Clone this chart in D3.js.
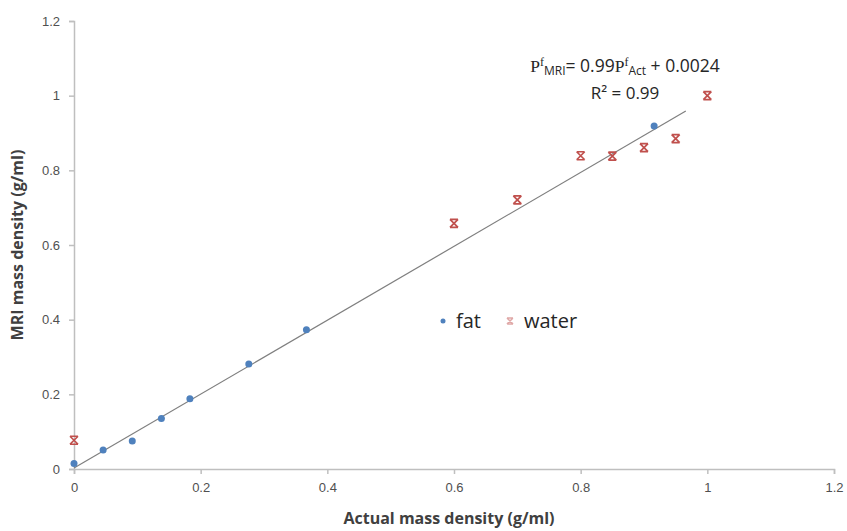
<!DOCTYPE html>
<html>
<head>
<meta charset="utf-8">
<script src="https://cdn.jsdelivr.net/npm/d3@7"></script>
<style>
  body { margin: 0; background: #fff; }
  svg { font-family: "Open Sans", "Liberation Sans", sans-serif; }
</style>
</head>
<body>
<script>
// chart data
var fatActual = [0, 0.046, 0.092, 0.138, 0.183, 0.276, 0.367, 0.916];
var fatMri    = [0.015, 0.051, 0.075, 0.135, 0.188, 0.281, 0.373, 0.919];
var waterActual = [0, 0.6, 0.7, 0.8, 0.85, 0.9, 0.95, 1.0];
var waterMri    = [0.077, 0.658, 0.721, 0.839, 0.838, 0.861, 0.885, 1.0];
var tickValues = [0, 0.2, 0.4, 0.6, 0.8, 1, 1.2];
var fitSlope = 0.99, fitIntercept = 0.0024, fitRange = [0, 0.966];

var width = 847, height = 531;
var margin = {left: 74, right: 13, top: 21, bottom: 62};

var svg = d3.select("body").append("svg")
    .attr("width", width)
    .attr("height", height);

var x = d3.scaleLinear().domain([0, 1.2]).range([margin.left, width - margin.right]);
var y = d3.scaleLinear().domain([0, 1.2]).range([height - margin.bottom, margin.top]);

var axisColor = "#bfbfbf";

// x axis
var gx = svg.append("g")
    .attr("transform", "translate(0," + y(0) + ")")
    .call(d3.axisBottom(x).tickValues(tickValues).tickSize(5).tickPadding(9)
          .tickFormat(function(d){ return d3.format("~g")(d); }));
gx.select(".domain").attr("stroke", axisColor).attr("stroke-width", 1.5);
gx.selectAll(".tick line").attr("stroke", axisColor).attr("stroke-width", 1.5);
gx.selectAll(".tick text").attr("fill", "#505050").attr("font-size", 13);

// y axis
var gy = svg.append("g")
    .attr("transform", "translate(" + x(0) + ",0)")
    .call(d3.axisLeft(y).tickValues(tickValues).tickSize(5).tickPadding(9)
          .tickFormat(function(d){ return d3.format("~g")(d); }));
gy.select(".domain").attr("stroke", axisColor).attr("stroke-width", 1.5);
gy.selectAll(".tick line").attr("stroke", axisColor).attr("stroke-width", 1.5);
gy.selectAll(".tick text").attr("fill", "#505050").attr("font-size", 13);

// axis titles
svg.append("text")
    .attr("x", (x(0) + x(1.2)) / 2 - 5)
    .attr("y", 524)
    .attr("text-anchor", "middle")
    .attr("font-weight", "bold")
    .attr("font-size", 16)
    .attr("fill", "#404040")
    .text("Actual mass density (g/ml)");

svg.append("text")
    .attr("transform", "translate(23," + ((y(0) + y(1.2)) / 2) + ") rotate(-90)")
    .attr("text-anchor", "middle")
    .attr("font-weight", "bold")
    .attr("font-size", 16)
    .attr("fill", "#404040")
    .text("MRI mass density (g/ml)");

// trendline
svg.append("line")
    .attr("x1", x(fitRange[0])).attr("y1", y(fitSlope * fitRange[0] + fitIntercept))
    .attr("x2", x(fitRange[1])).attr("y2", y(fitSlope * fitRange[1] + fitIntercept))
    .attr("stroke", "#7f7f7f")
    .attr("stroke-width", 1.2);

var fatColor = "#4f81bd", waterColor = "#c0504d";

// X marker with bars top and bottom, like Excel's
function xMarker(s) {
  return "M" + (-s) + "," + (-s) + "L" + s + "," + s +
         "M" + s + "," + (-s) + "L" + (-s) + "," + s +
         "M" + (-s) + "," + (-s) + "L" + s + "," + (-s) +
         "M" + (-s) + "," + s + "L" + s + "," + s;
}

// fat points
svg.selectAll(".fat")
    .data(d3.zip(fatActual, fatMri))
    .enter().append("circle")
      .attr("class", "fat")
      .attr("cx", function(d){ return x(d[0]); })
      .attr("cy", function(d){ return y(d[1]); })
      .attr("r", 3.5)
      .attr("fill", fatColor);

// water points
svg.selectAll(".water")
    .data(d3.zip(waterActual, waterMri))
    .enter().append("path")
      .attr("class", "water")
      .attr("transform", function(d){ return "translate(" + x(d[0]) + "," + y(d[1]) + ")"; })
      .attr("d", xMarker(4))
      .attr("stroke", waterColor)
      .attr("stroke-width", 1.7)
      .attr("fill", "none");

// legend
var legend = svg.append("g");
legend.append("circle").attr("cx", 443).attr("cy", 321).attr("r", 2.5).attr("fill", fatColor);
legend.append("text").attr("x", 456).attr("y", 328).attr("font-size", 20).attr("fill", "#262626").text("fat");
legend.append("path").attr("transform", "translate(510,321)").attr("d", xMarker(3))
    .attr("stroke", waterColor).attr("stroke-opacity", 0.5).attr("stroke-width", 1.5).attr("fill", "none");
legend.append("text").attr("x", 524).attr("y", 328).attr("font-size", 20).attr("fill", "#262626").text("water");

// fit equation
var eq = svg.append("text")
    .attr("x", 625).attr("y", 72)
    .attr("text-anchor", "middle")
    .attr("font-size", 17.5)
    .attr("fill", "#262626");
eq.append("tspan").attr("font-family", "Liberation Serif, serif").text("P");
eq.append("tspan").attr("font-family", "Liberation Serif, serif").attr("font-size", 12).attr("dy", -6).text("f");
eq.append("tspan").attr("font-size", 12).attr("dy", 9).text("MRI");
eq.append("tspan").attr("dy", -3).text("= 0.99");
eq.append("tspan").attr("font-family", "Liberation Serif, serif").text("P");
eq.append("tspan").attr("font-family", "Liberation Serif, serif").attr("font-size", 12).attr("dy", -6).text("f");
eq.append("tspan").attr("font-size", 12).attr("dy", 9).text("Act");
eq.append("tspan").attr("dy", -3).text(" + 0.0024");

svg.append("text")
    .attr("x", 625).attr("y", 99)
    .attr("text-anchor", "middle")
    .attr("font-size", 17)
    .attr("fill", "#262626")
    .text("R² = 0.99");
</script>
</body>
</html>
